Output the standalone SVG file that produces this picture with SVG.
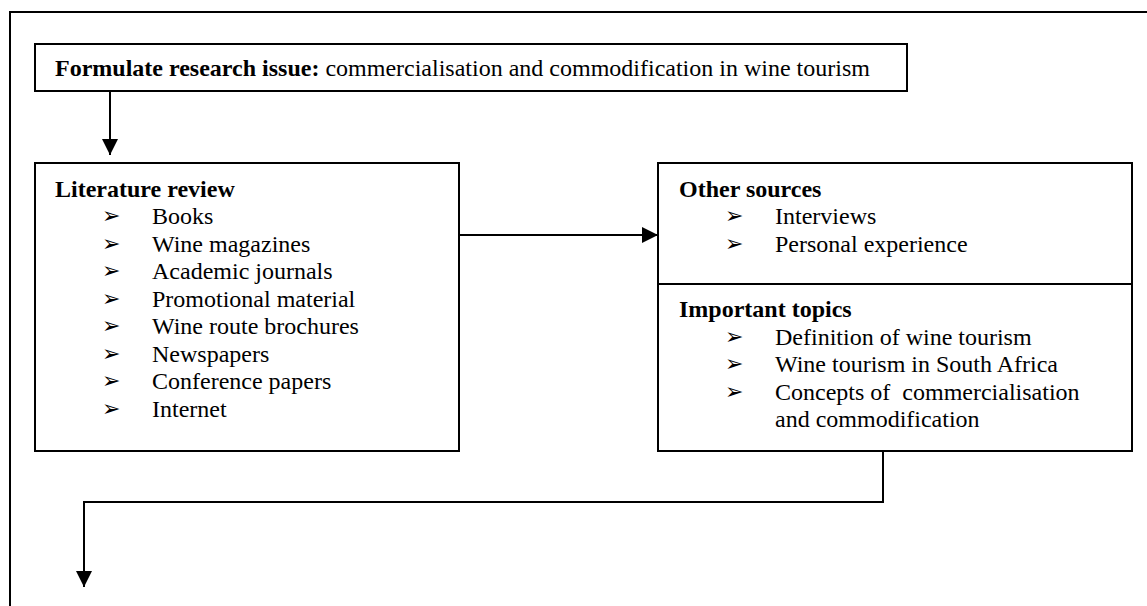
<svg xmlns="http://www.w3.org/2000/svg" width="1147" height="606" viewBox="0 0 1147 606">
  <style>
    .box { fill: #ffffff; stroke: #000000; stroke-width: 2; }
    .frame { fill: none; stroke: #000000; stroke-width: 2; }
    .wire { fill: none; stroke: #000000; stroke-width: 2; }
    text { font-family: "Liberation Serif", "Times New Roman", serif; font-size: 24px; fill: #000000; }
    .title { font-weight: bold; }
    .bullet { font-family: "DejaVu Sans", sans-serif; font-size: 22px; }
  </style>
  <defs>
    <marker id="tip" viewBox="0 0 16 16" refX="16" refY="8" markerWidth="16" markerHeight="16" orient="auto" markerUnits="userSpaceOnUse">
      <path d="M0,0 L16,8 L0,16 Z" fill="#000000"/>
    </marker>
  </defs>

  <!-- outer frame, open at right and bottom -->
  <path class="frame" d="M10,606 V12 H1147"/>

  <g id="research-issue">
    <rect class="box" x="35" y="44" width="872" height="47"/>
    <text x="55" y="76"><tspan class="title">Formulate research issue:</tspan> commercialisation and commodification in wine tourism</text>
  </g>

  <g id="literature-review">
    <rect class="box" x="35" y="163" width="424" height="288"/>
    <text class="title" x="55" y="197">Literature review</text>
    <text class="bullet" x="102" y="223">➢</text>
    <text class="bullet" x="102" y="250.5">➢</text>
    <text class="bullet" x="102" y="278">➢</text>
    <text class="bullet" x="102" y="305.5">➢</text>
    <text class="bullet" x="102" y="333">➢</text>
    <text class="bullet" x="102" y="360.5">➢</text>
    <text class="bullet" x="102" y="388">➢</text>
    <text class="bullet" x="102" y="415.5">➢</text>
    <text x="152" y="224">Books</text>
    <text x="152" y="251.5">Wine magazines</text>
    <text x="152" y="279">Academic journals</text>
    <text x="152" y="306.5">Promotional material</text>
    <text x="152" y="334">Wine route brochures</text>
    <text x="152" y="361.5">Newspapers</text>
    <text x="152" y="389">Conference papers</text>
    <text x="152" y="416.5">Internet</text>
  </g>

  <g id="other-sources">
    <rect class="box" x="658" y="163" width="474" height="121"/>
    <text class="title" x="679" y="197">Other sources</text>
    <text class="bullet" x="725" y="223">➢</text>
    <text class="bullet" x="725" y="250.5">➢</text>
    <text x="775" y="224">Interviews</text>
    <text x="775" y="251.5">Personal experience</text>
  </g>

  <g id="important-topics">
    <rect class="box" x="658" y="284" width="474" height="167"/>
    <text class="title" x="679" y="317">Important topics</text>
    <text class="bullet" x="725" y="343.5">➢</text>
    <text class="bullet" x="725" y="371">➢</text>
    <text class="bullet" x="725" y="398.5">➢</text>
    <text x="775" y="344.5">Definition of wine tourism</text>
    <text x="775" y="372">Wine tourism in South Africa</text>
    <text x="775" y="399.5" style="white-space:pre">Concepts of  commercialisation</text>
    <text x="775" y="427">and commodification</text>
  </g>

  <g id="connectors">
    <path class="wire" d="M110,91 V155" marker-end="url(#tip)"/>
    <path class="wire" d="M459,235 H658" marker-end="url(#tip)"/>
    <path class="wire" d="M883,451 V502 H84 V587" marker-end="url(#tip)"/>
  </g>
</svg>
